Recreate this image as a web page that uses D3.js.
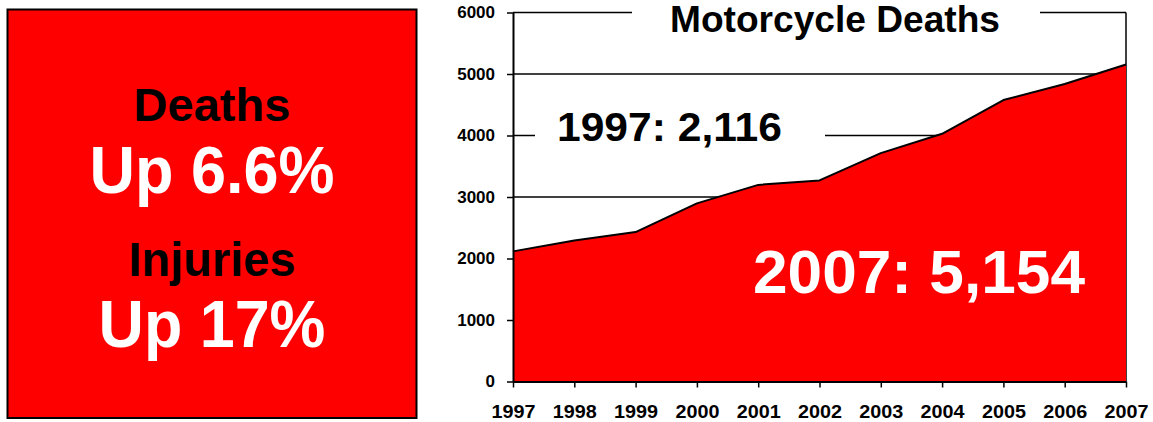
<!DOCTYPE html>
<html>
<head>
<meta charset="utf-8">
<script src="https://cdn.jsdelivr.net/npm/d3@7"></script>
<style>
  body { margin: 0; background: #fff; }
  svg { display: block; font-family: "Liberation Sans", Arial, sans-serif; }
</style>
</head>
<body>
<div id="chart"></div>
<script>
// data
const years = [1997, 1998, 1999, 2000, 2001, 2002, 2003, 2004, 2005, 2006, 2007];
const deaths = [2116, 2294, 2430, 2897, 3197, 3270, 3714, 4028, 4576, 4837, 5154];
const yTicks = [0, 1000, 2000, 3000, 4000, 5000, 6000];
const gridValues = [3000, 4000, 5000, 6000];
const chartTitle = "Motorcycle Deaths";
const startLabel = "1997: 2,116";
const endLabel = "2007: 5,154";
const panelLines = [
    { text: "Deaths", color: "#000", size: 47, y: 121, len: 157 },
    { text: "Up 6.6%", color: "#fff", size: 66, y: 193, len: 245 },
    { text: "Injuries", color: "#000", size: 48, y: 276, len: 167 },
    { text: "Up 17%", color: "#fff", size: 67, y: 347, len: 227 }
];

const W = 1153, H = 422;
const red = "#ff0000";

const svg = d3.select("#chart").append("svg")
    .attr("width", W)
    .attr("height", H);

// left panel
svg.append("rect")
    .attr("x", 7.5).attr("y", 9.5)
    .attr("width", 409).attr("height", 408.5)
    .attr("fill", red)
    .attr("stroke", "#000")
    .attr("stroke-width", 2);

svg.selectAll("text.panel")
    .data(panelLines)
    .enter()
    .append("text")
    .attr("class", "panel")
    .attr("x", 212)
    .attr("y", d => d.y)
    .attr("text-anchor", "middle")
    .attr("font-weight", "bold")
    .attr("font-size", d => d.size)
    .attr("fill", d => d.color)
    .attr("textLength", d => d.len)
    .attr("lengthAdjust", "spacingAndGlyphs")
    .text(d => d.text);

// chart
const x0 = 513, x1 = 1126, yTop = 12.5, yBot = 381.5;

const xScale = d3.scaleLinear()
    .domain([years[0], years[years.length - 1]])
    .range([x0, x1]);

const yScale = d3.scaleLinear()
    .domain([0, 6000])
    .range([yBot, yTop]);

const g = svg.append("g");

g.selectAll("line.grid")
    .data(gridValues)
    .enter()
    .append("line")
    .attr("class", "grid")
    .attr("x1", x0).attr("x2", x1)
    .attr("y1", d => yScale(d)).attr("y2", d => yScale(d))
    .attr("stroke", "#000")
    .attr("stroke-width", 1.5);

// right frame line
g.append("line")
    .attr("x1", x1).attr("x2", x1)
    .attr("y1", yScale(6000)).attr("y2", yScale(0))
    .attr("stroke", "#000")
    .attr("stroke-width", 1.5);

const area = d3.area()
    .x((d, i) => xScale(years[i]))
    .y0(yScale(0))
    .y1(d => yScale(d));

const line = d3.line()
    .x((d, i) => xScale(years[i]))
    .y(d => yScale(d));

g.append("path")
    .datum(deaths)
    .attr("d", area)
    .attr("fill", red);

g.append("path")
    .datum(deaths)
    .attr("d", line)
    .attr("fill", "none")
    .attr("stroke", "#000")
    .attr("stroke-width", 2)
    .attr("stroke-linejoin", "round");

// axes
const yAxis = g.append("g")
    .attr("transform", `translate(${x0},0)`)
    .call(d3.axisLeft(yScale).tickValues(yTicks).tickFormat(d3.format("d"))
        .tickSize(6).tickPadding(12).tickSizeOuter(0));

yAxis.select(".domain").attr("stroke-width", 2);
yAxis.selectAll(".tick line").attr("stroke-width", 1.5);
yAxis.selectAll("text")
    .attr("font-family", "Liberation Sans, Arial, sans-serif")
    .attr("font-size", 17)
    .attr("font-weight", "bold")
    .attr("fill", "#000");

const xAxis = g.append("g")
    .attr("transform", `translate(0,${yBot})`)
    .call(d3.axisBottom(xScale).tickValues(years).tickFormat(d3.format("d")).tickSize(6).tickSizeOuter(0));

xAxis.select(".domain").attr("stroke-width", 2);
xAxis.selectAll(".tick line").attr("stroke-width", 1.5);
xAxis.selectAll("text")
    .attr("y", 36.5)
    .attr("dy", 0)
    .attr("font-family", "Liberation Sans, Arial, sans-serif")
    .attr("font-size", 18)
    .attr("font-weight", "bold")
    .attr("fill", "#000")
    .attr("textLength", 44)
    .attr("lengthAdjust", "spacingAndGlyphs");

// title with white background over the top grid line
svg.append("rect")
    .attr("x", 632).attr("y", 0)
    .attr("width", 408).attr("height", 40)
    .attr("fill", "#fff");

svg.append("text")
    .attr("x", 835).attr("y", 32)
    .attr("text-anchor", "middle")
    .attr("font-weight", "bold")
    .attr("font-size", 37)
    .attr("textLength", 330)
    .attr("lengthAdjust", "spacingAndGlyphs")
    .attr("fill", "#000")
    .text(chartTitle);

// 1997 label
svg.append("rect")
    .attr("x", 535).attr("y", 105)
    .attr("width", 290).attr("height", 44)
    .attr("fill", "#fff");

svg.append("text")
    .attr("x", 669.5).attr("y", 141)
    .attr("text-anchor", "middle")
    .attr("font-weight", "bold")
    .attr("font-size", 40)
    .attr("textLength", 225)
    .attr("lengthAdjust", "spacingAndGlyphs")
    .attr("fill", "#000")
    .text(startLabel);

// 2007 label
svg.append("text")
    .attr("x", 919).attr("y", 293)
    .attr("text-anchor", "middle")
    .attr("font-weight", "bold")
    .attr("font-size", 62)
    .attr("textLength", 332)
    .attr("lengthAdjust", "spacingAndGlyphs")
    .attr("fill", "#fff")
    .text(endLabel);
</script>
</body>
</html>
